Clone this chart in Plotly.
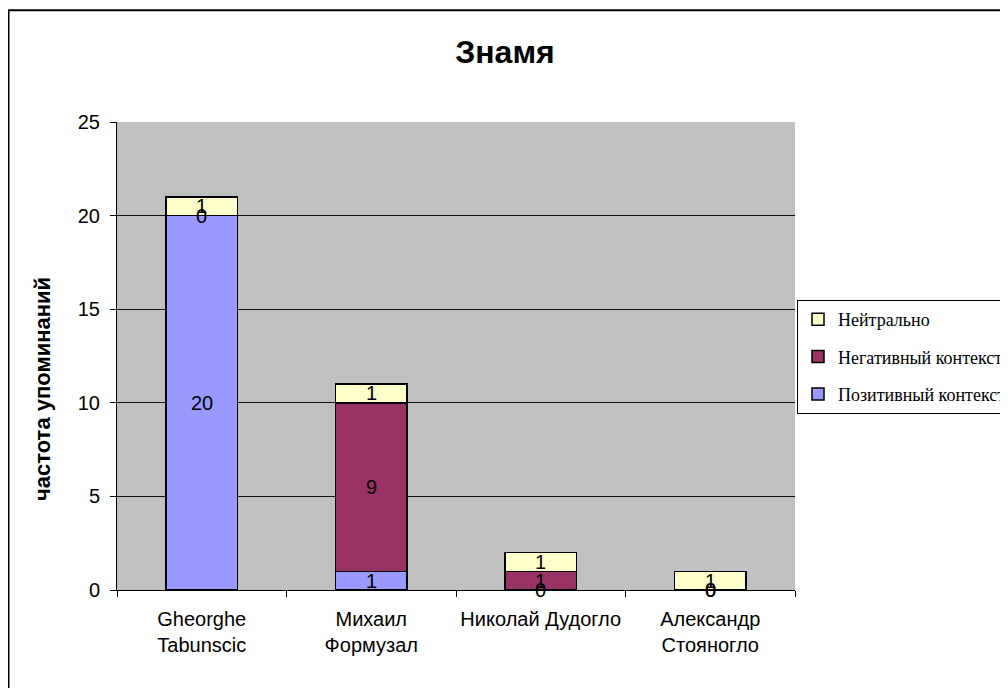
import plotly.graph_objects as go

categories = ["Gheorghe<br>Tabunscic", "Михаил<br>Формузал", "Николай Дудогло", "Александр<br>Стояногло"]
positive = [20, 1, 0, 0]
negative = [0, 9, 1, 0]
neutral = [1, 1, 1, 1]
series_names = ["Позитивный контекст", "Негативный контекст", "Нейтрально"]
series_colors = ["#9999FF", "#993366", "#FFFFCC"]
y_ticks = [0, 5, 10, 15, 20, 25]
y_title = "частота упоминаний"
chart_title = "Знамя"

# the page adds an 8px body margin, so figure px = page px - 8
W, H = 1008, 688
ML, MR, MT, MB = 109, 221, 114, 106
PW, PH = W - ML - MR, H - MT - MB


def px_to_paper_x(px):
    return (px - ML) / PW


def px_to_paper_y(py):
    return (H - MB - py) / PH


fig = go.Figure()
series_values = [positive, negative, neutral]
n = len(series_names)
for i, (name, vals, col) in enumerate(zip(series_names, series_values, series_colors)):
    fig.add_trace(go.Bar(
        x=categories, y=vals, name=name, legendgroup=f"g{i}", legendrank=n - i,
        marker=dict(color=col, line=dict(color="black", width=1.5)),
        hoverinfo="y+name",
    ))

# data labels at segment centers
annotations = []
for ci, cat in enumerate(categories):
    base = 0
    for vals in series_values:
        v = vals[ci]
        annotations.append(dict(
            x=cat, y=base + v / 2, xref="x", yref="y", text=str(v), showarrow=False,
            font=dict(family="Liberation Sans, Arial", size=20, color="black"),
        ))
        base += v

# y axis title (positioned like the reference, slightly below the axis middle)
annotations.append(dict(
    text=f"<b>{y_title}</b>", xref="paper", yref="paper",
    x=px_to_paper_x(34), y=px_to_paper_y(381), xanchor="center", yanchor="middle",
    textangle=-90, showarrow=False,
    font=dict(family="Liberation Sans, Arial", size=22, color="black"),
))

fig.update_layout(
    width=W, height=H,
    margin=dict(l=ML, r=MR, t=MT, b=MB, autoexpand=False),
    barmode="stack", bargap=0.58,
    paper_bgcolor="white", plot_bgcolor="#C0C0C0",
    font=dict(family="Liberation Sans, Arial", size=20, color="black"),
    title=dict(text=f"<b>{chart_title}</b>", x=497 / W, xref="container", xanchor="center",
               y=1 - 44 / H, yref="container", yanchor="middle",
               font=dict(family="Liberation Sans, Arial", size=32, color="black")),
    xaxis=dict(type="category", showline=True, linecolor="black", linewidth=1,
               ticks="outside", tickson="boundaries", ticklen=6, tickcolor="black",
               tickangle=0, ticklabelstandoff=11,
               showgrid=False, tickfont=dict(size=20), fixedrange=True),
    yaxis=dict(range=[0, 25], tickvals=y_ticks, showline=True, linecolor="black", linewidth=1,
               ticks="outside", ticklen=6, tickcolor="black", ticklabelstandoff=6,
               showgrid=True, gridcolor="#111111", gridwidth=1, zeroline=False,
               tickfont=dict(size=20), fixedrange=True),
    legend=dict(x=px_to_paper_x(789), xanchor="left", y=px_to_paper_y(292), yanchor="top",
                bgcolor="white", bordercolor="black", borderwidth=1,
                traceorder="grouped", tracegroupgap=11,
                font=dict(family="Liberation Serif, Times New Roman", size=18, color="black")),
    annotations=annotations,
    shapes=[dict(type="rect", xref="paper", yref="paper",
                 x0=px_to_paper_x(0.5), x1=px_to_paper_x(1030),
                 y0=px_to_paper_y(710), y1=px_to_paper_y(2.2),
                 line=dict(color="black", width=2), fillcolor="rgba(0,0,0,0)", layer="below")],
)

fig.write_html("out.html")
